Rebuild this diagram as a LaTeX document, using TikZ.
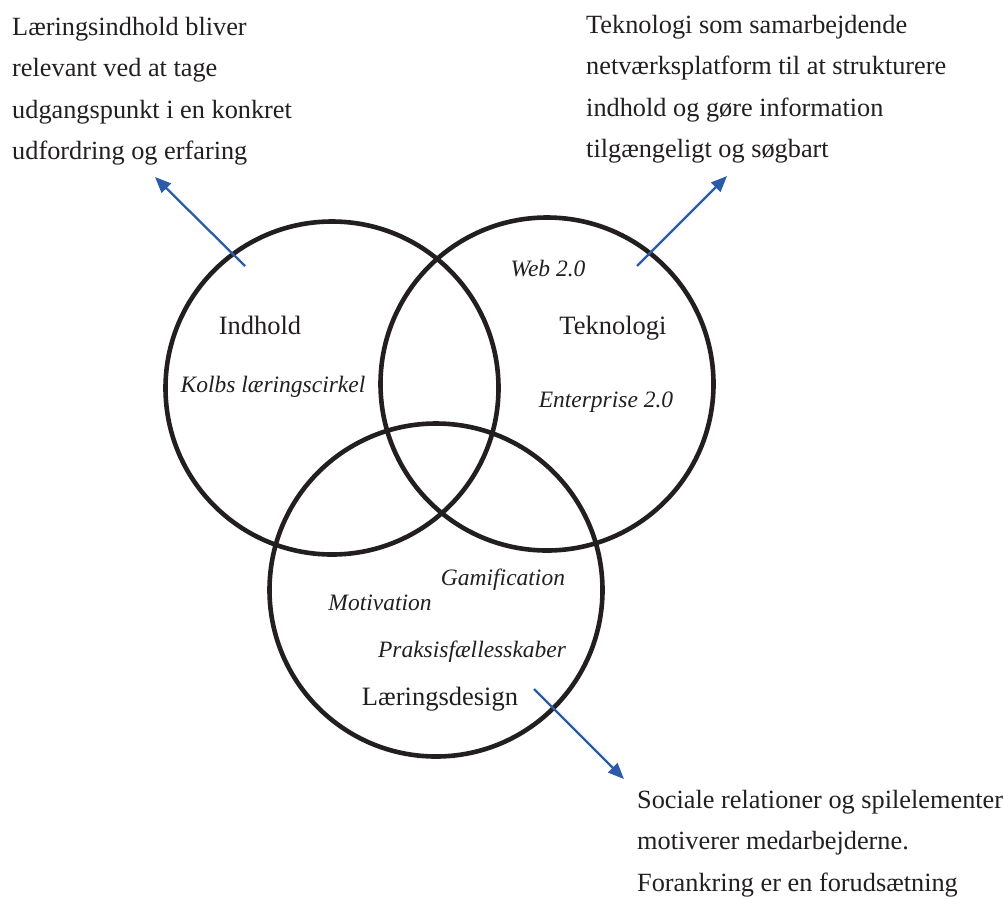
\documentclass[tikz,border=0pt]{standalone}
\usepackage{fontspec}
\setmainfont{Liberation Serif}
\usetikzlibrary{arrows.meta}
\definecolor{ink}{RGB}{35,31,32}
\definecolor{arrowblue}{RGB}{42,92,170}
\begin{document}
\begin{tikzpicture}[x=1pt,y=-1pt,
  venn/.style={circle,draw=ink,line width=4.6pt,minimum size=333pt,inner sep=0pt,outer sep=0pt},
  areatitle/.style={text=ink,font=\fontsize{26.5}{30}\selectfont,inner sep=0pt,anchor=base},
  keyword/.style={text=ink,font=\fontsize{23.5}{28}\selectfont\itshape,inner sep=0pt,anchor=base},
  note/.style={text=ink,font=\fontsize{26.3}{41.5}\selectfont,align=left,inner sep=0pt,anchor=north west},
  pointer/.style={draw=arrowblue,line width=2.3pt,-{Triangle[length=16pt,width=13pt]}}
]
\useasboundingbox[fill=white] (0,0) rectangle (1003,898);

% the three overlapping areas
\node[venn] (indhold)  at (332,388) {};
\node[venn] (teknologi) at (547,384) {};
\node[venn] (design)   at (436,590) {};

% area titles and keywords
\node[areatitle] (tInd) at (260,334) {Indhold};
\node[keyword]   (kKolb) at (273,392) {Kolbs læringscirkel};
\node[keyword]   (kWeb) at (548,276) {Web 2.0};
\node[areatitle] (tTek) at (613,334) {Teknologi};
\node[keyword]   (kEnt) at (606,407) {Enterprise 2.0};
\node[keyword]   (kGam) at (503,585) {Gamification};
\node[keyword]   (kMot) at (380,610) {Motivation};
\node[keyword]   (kPrak) at (472,657) {Praksisfællesskaber};
\node[areatitle] (tDes) at (440,705) {Læringsdesign};

% explanatory notes
\node[note] (nInd) at (12,17) {Læringsindhold bliver\\relevant ved at tage\\udgangspunkt i en konkret\\udfordring og erfaring};
\node[note] (nTek) at (586,15) {Teknologi som samarbejdende\\netværksplatform til at strukturere\\indhold og gøre information\\tilgængeligt og søgbart};
\node[note] (nDes) at (637,790) {Sociale relationer og spilelementer\\motiverer medarbejderne.\\Forankring er en forudsætning};

% pointers from the areas to their notes
\coordinate (p1s) at (245,266); \coordinate (p1e) at (155,177);
\coordinate (p2s) at (637,266); \coordinate (p2e) at (727,176);
\coordinate (p3s) at (534,689); \coordinate (p3e) at (624,779);
\draw[pointer] (p1s) -- (p1e);
\draw[pointer] (p2s) -- (p2e);
\draw[pointer] (p3s) -- (p3e);
\end{tikzpicture}
\end{document}
